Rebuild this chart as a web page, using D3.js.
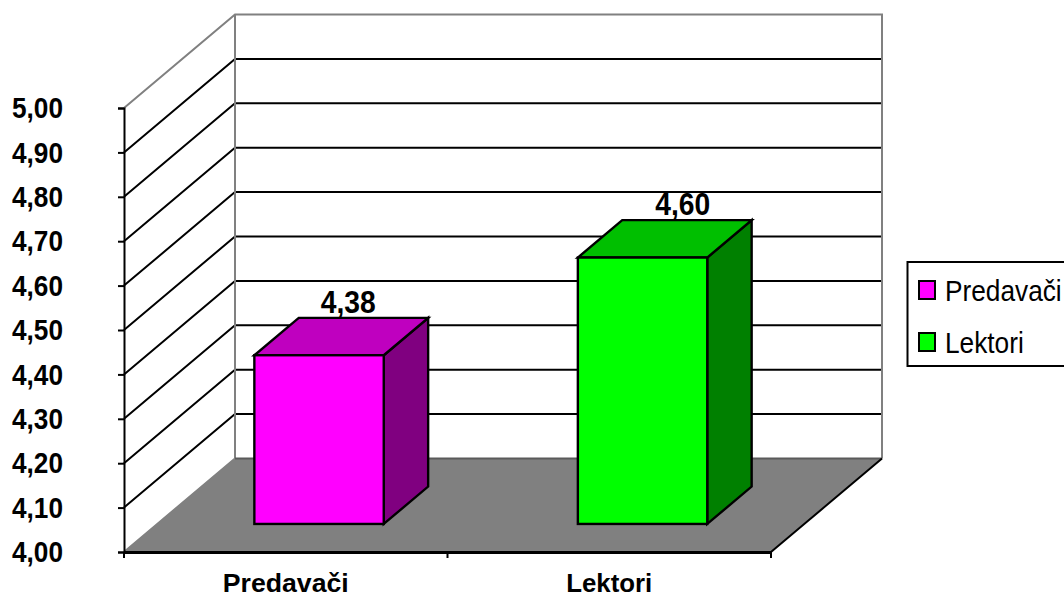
<!DOCTYPE html>
<html>
<head>
<meta charset="utf-8">
<script src="https://d3js.org/d3.v7.min.js"></script>
<style>
html, body { margin: 0; padding: 0; background: #fff; overflow: hidden; }
text { font-family: "Liberation Sans", Arial, sans-serif; fill: #000; }
</style>
</head>
<body>
<svg width="1064" height="599"></svg>
<script>
var categories = ["Predavači", "Lektori"];
var values = [4.38, 4.60];
var valueLabels = ["4,38", "4,60"];
var tickValues = [4.0, 4.1, 4.2, 4.3, 4.4, 4.5, 4.6, 4.7, 4.8, 4.9, 5.0];

var frontColors = ["#ff00ff", "#00ff00"];
var topColors = ["#bf00bf", "#00bf00"];
var sideColors = ["#800080", "#008000"];

// plot box of the front plane, and how far the 3D depth pushes it back
var left = 124, right = 771, bottom = 552, top_ = 108;
var depthX = 111, depthY = -93.5;

var svg = d3.select("svg");
var line = d3.line();
var fmt = d3.format(".2f");

var yScale = d3.scaleLinear().domain([4, 5]).range([bottom, top_]);
var xScale = d3.scaleBand().domain(categories).range([left, right]).paddingInner(0).paddingOuter(0);
var barWidth = xScale.bandwidth() * 0.4;

// the original text is tall and narrow, so squeeze it to the measured width
function squeeze(sel, w) {
    sel.attr("textLength", w).attr("lengthAdjust", "spacingAndGlyphs");
}

// floor
svg.append("path")
    .attr("d", line([[left, bottom], [left + depthX, bottom + depthY], [right + depthX, bottom + depthY], [right, bottom]]) + "Z")
    .attr("fill", "#808080");

// gridlines on left wall and back wall
tickValues.slice(1, -1).forEach(function(t) {
    var y = yScale(t);
    svg.append("path")
        .attr("d", line([[left, y], [left + depthX, y + depthY], [right + depthX, y + depthY]]))
        .attr("fill", "none").attr("stroke", "#000").attr("stroke-width", 2);
});

// wall outline
svg.append("path")
    .attr("d", line([[left, top_], [left + depthX, top_ + depthY], [right + depthX, top_ + depthY], [right + depthX, bottom + depthY]]))
    .attr("fill", "none").attr("stroke", "#808080").attr("stroke-width", 2);
svg.append("path")
    .attr("d", line([[left + depthX, top_ + depthY], [left + depthX, bottom + depthY], [left, bottom]]))
    .attr("fill", "none").attr("stroke", "#808080").attr("stroke-width", 2);
svg.append("path")
    .attr("d", line([[left + depthX, bottom + depthY], [right + depthX, bottom + depthY]]))
    .attr("fill", "none").attr("stroke", "#5a5a5a").attr("stroke-width", 2);
svg.append("path")
    .attr("d", line([[right, bottom], [right + depthX, bottom + depthY]]))
    .attr("fill", "none").attr("stroke", "#000").attr("stroke-width", 2);

// bars: sit 0.3 of the way into the depth, and are 0.4 of it deep
var startX = depthX * 0.3, startY = depthY * 0.3;
var barDX = depthX * 0.4, barDY = depthY * 0.4;
var labelNudge = [7, 18];

categories.forEach(function(c, i) {
    var x0 = xScale(c) + xScale.bandwidth() / 2 - barWidth / 2 + startX;
    var x1 = x0 + barWidth;
    var y0 = yScale(4) + startY;
    var y1 = yScale(values[i]) + startY;
    var g = svg.append("g")
        .attr("stroke", "#000").attr("stroke-width", 2.4).attr("stroke-linejoin", "miter");

    g.append("path")
        .attr("d", line([[x1, y0], [x1 + barDX, y0 + barDY], [x1 + barDX, y1 + barDY], [x1, y1]]) + "Z")
        .attr("fill", sideColors[i]);
    g.append("path")
        .attr("d", line([[x0, y1], [x0 + barDX, y1 + barDY], [x1 + barDX, y1 + barDY], [x1, y1]]) + "Z")
        .attr("fill", topColors[i]);
    g.append("rect")
        .attr("x", x0).attr("y", y1).attr("width", barWidth).attr("height", y0 - y1)
        .attr("fill", frontColors[i]);

    svg.append("text")
        .attr("x", (x0 + x1 + barDX) / 2 + labelNudge[i])
        .attr("y", y1 + barDY - 5)
        .attr("text-anchor", "middle")
        .style("font-size", "31px").style("font-weight", "bold")
        .call(squeeze, 55)
        .text(valueLabels[i]);
});

// value axis
var yAxis = svg.append("g")
    .attr("transform", "translate(" + left + ",0)")
    .call(d3.axisLeft(yScale)
        .tickValues(tickValues)
        .tickSize(6)
        .tickPadding(55)
        .tickFormat(function(d) { return fmt(d).replace(".", ","); }));
yAxis.selectAll("path, line").attr("stroke", "#000").attr("stroke-width", 2);
yAxis.selectAll("text")
    .style("font-family", '"Liberation Sans", Arial, sans-serif')
    .style("font-size", "30px").style("font-weight", "bold")
    .call(squeeze, 51);

// category axis, ticks fall on the band edges
var xAxis = svg.append("g")
    .attr("transform", "translate(0," + bottom + ")")
    .call(d3.axisBottom(xScale).tickSize(0).tickPadding(22));
xAxis.select(".domain").attr("stroke", "#000").attr("stroke-width", 3);
xAxis.selectAll("text")
    .style("font-family", '"Liberation Sans", Arial, sans-serif')
    .style("font-size", "26px").style("font-weight", "bold")
    .each(function(d, i) { d3.select(this).call(squeeze, [126, 86][i]); });
svg.append("g").selectAll("line")
    .data([left, xScale(categories[1]), right])
    .enter().append("line")
    .attr("x1", function(d) { return d; })
    .attr("x2", function(d) { return d; })
    .attr("y1", bottom).attr("y2", bottom + 6)
    .attr("stroke", "#000").attr("stroke-width", 2);

// legend box runs off the right edge like the original
var legend = svg.append("g");
legend.append("rect")
    .attr("x", 907.5).attr("y", 262).attr("width", 180).attr("height", 104)
    .attr("fill", "#fff").attr("stroke", "#000").attr("stroke-width", 2);
categories.forEach(function(c, i) {
    var y = 281 + i * 52;
    legend.append("rect")
        .attr("x", 919).attr("y", y).attr("width", 16).attr("height", 18)
        .attr("fill", frontColors[i]).attr("stroke", "#000").attr("stroke-width", 2);
    // scaled with a transform so the text box itself stays inside the page
    legend.append("text")
        .attr("transform", "translate(945," + (y + 20) + ") scale(0.875,1)")
        .style("font-size", "30px")
        .text(c);
});
</script>
</body>
</html>
